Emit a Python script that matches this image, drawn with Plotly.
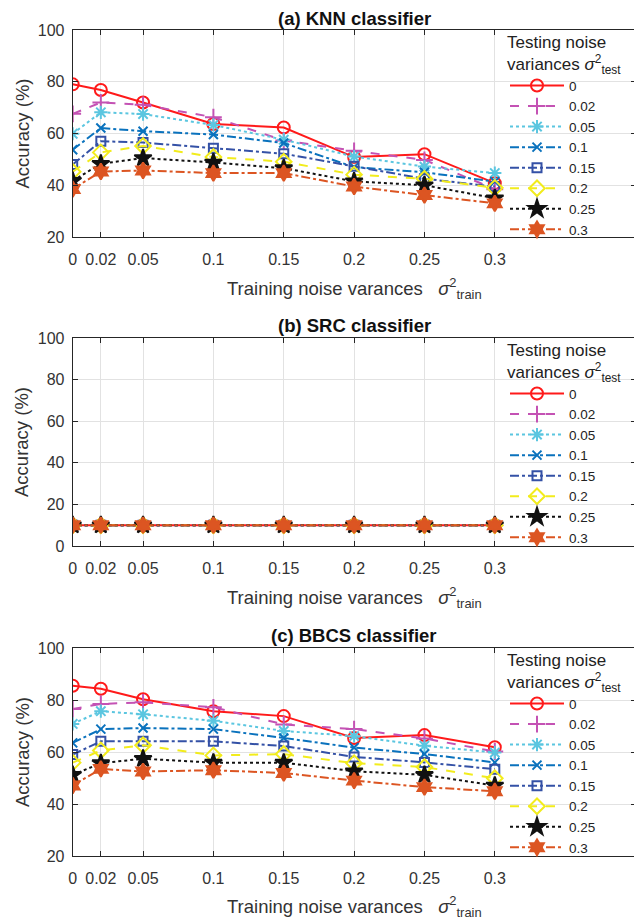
import plotly.graph_objects as go

train_var = [0, 0.02, 0.05, 0.1, 0.15, 0.2, 0.25, 0.3]
tick_labels = ["0", "0.02", "0.05", "0.1", "0.15", "0.2", "0.25", "0.3"]
test_var_labels = ["0", "0.02", "0.05", "0.1", "0.15", "0.2", "0.25", "0.3"]

# (a) KNN classifier accuracies, one list per testing noise variance
knn_0 = [79.0, 76.8, 72.0, 63.7, 62.3, 50.9, 52.0, 40.8]
knn_002 = [67.6, 72.0, 71.1, 66.3, 57.3, 53.3, 49.8, 38.5]
knn_005 = [59.9, 68.2, 67.5, 63.3, 57.6, 51.1, 47.2, 44.7]
knn_01 = [53.7, 62.1, 60.9, 59.6, 56.3, 47.0, 45.0, 41.4]
knn_015 = [48.0, 57.0, 56.5, 54.3, 52.2, 47.3, 42.5, 39.5]
knn_02 = [45.2, 52.7, 55.2, 50.9, 49.1, 44.1, 42.5, 39.0]
knn_025 = [41.7, 48.3, 50.5, 48.8, 46.6, 41.5, 40.0, 35.0]
knn_03 = [38.5, 45.3, 45.7, 44.7, 44.7, 39.5, 36.2, 33.0]

# (b) SRC classifier accuracies
src_0 = [10, 10, 10, 10, 10, 10, 10, 10]
src_002 = [10, 10, 10, 10, 10, 10, 10, 10]
src_005 = [10, 10, 10, 10, 10, 10, 10, 10]
src_01 = [10, 10, 10, 10, 10, 10, 10, 10]
src_015 = [10, 10, 10, 10, 10, 10, 10, 10]
src_02 = [10, 10, 10, 10, 10, 10, 10, 10]
src_025 = [10, 10, 10, 10, 10, 10, 10, 10]
src_03 = [10, 10, 10, 10, 10, 10, 10, 10]

# (c) BBCS classifier accuracies
bbcs_0 = [85.5, 84.3, 80.3, 75.7, 73.8, 65.4, 66.5, 61.8]
bbcs_002 = [76.5, 78.5, 79.1, 77.2, 70.6, 68.8, 65.2, 60.2]
bbcs_005 = [70.8, 75.7, 74.5, 72.0, 68.1, 66.1, 62.4, 59.8]
bbcs_01 = [63.5, 68.8, 69.2, 68.8, 65.4, 61.7, 59.2, 56.0]
bbcs_015 = [59.0, 64.1, 64.1, 64.1, 62.3, 58.1, 56.0, 53.4]
bbcs_02 = [55.9, 60.6, 62.6, 58.7, 59.2, 55.7, 54.2, 49.9]
bbcs_025 = [51.2, 55.7, 57.4, 55.9, 55.9, 52.6, 51.2, 47.1]
bbcs_03 = [47.1, 53.5, 52.5, 53.0, 51.9, 49.0, 46.5, 44.9]

panels = [
    ("(a) KNN classifier", [knn_0, knn_002, knn_005, knn_01, knn_015, knn_02, knn_025, knn_03], [20, 100], [20, 40, 60, 80, 100]),
    ("(b) SRC classifier", [src_0, src_002, src_005, src_01, src_015, src_02, src_025, src_03], [0, 100], [0, 20, 40, 60, 80, 100]),
    ("(c) BBCS classifier", [bbcs_0, bbcs_002, bbcs_005, bbcs_01, bbcs_015, bbcs_02, bbcs_025, bbcs_03], [20, 100], [20, 40, 60, 80, 100]),
]

styles = [
    dict(color="#FF1A1A", dash="solid", symbol="circle-open", size=12),
    dict(color="#C452B4", dash="dash", symbol="cross-thin-open", size=12),
    dict(color="#5BC6E0", dash="dot", symbol="asterisk-open", size=11),
    dict(color="#0A72BD", dash="dashdot", symbol="x-thin-open", size=9),
    dict(color="#3451A6", dash="dashdot", symbol="square-open", size=9),
    dict(color="#F2EC1C", dash="dash", symbol="diamond-open", size=12),
    dict(color="#111111", dash="dot", symbol="star", size=13),
    dict(color="#DC5522", dash="dashdot", symbol="hexagram", size=12),
]

# page body has an 8px margin; figure coordinates = screen coordinates - 8
OFF = 8.0
W = 642.0 - OFF
H = 924.0 - OFF


def px_x(v):
    return (v - OFF) / W


def px_y(v):
    return 1 - (v - OFF) / H


xdom = [px_x(72.7), px_x(635.5)]
ydoms = [(30, 237), (338, 546), (648, 856)]
title_y = [18.5, 325, 635]
xtitle_y = [288, 597, 906]

text_color = "#333333"
FONT = "Liberation Sans, Arial, sans-serif"

fig = go.Figure()
annotations = []
layout = {}

for p, (title, series, yr, yt) in enumerate(panels):
    sfx = "" if p == 0 else str(p + 1)
    xa = "x" + sfx
    ya = "y" + sfx
    lg = "legend" + sfx
    for i, vals in enumerate(series):
        st = styles[i]
        fig.add_trace(go.Scatter(
            x=train_var, y=vals, mode="lines+markers", name=test_var_labels[i],
            xaxis=xa, yaxis=ya, legend=lg,
            line=dict(color=st["color"], width=2, dash=st["dash"]),
            marker=dict(symbol=st["symbol"], size=st["size"], color=st["color"],
                        line=dict(color=st["color"], width=2)),
        ))
    top, bot = ydoms[p]
    ydom = [px_y(bot), px_y(top)]
    layout["xaxis" + sfx] = dict(
        domain=xdom, range=[0, 0.4], anchor=ya, tickmode="array",
        tickvals=train_var, ticktext=tick_labels, showgrid=True,
        gridcolor="#e2e2e2", gridwidth=1, showline=True, linecolor="#262626",
        linewidth=1, mirror="ticks", ticks="inside", ticklen=5, tickcolor="#262626",
        tickfont=dict(size=16, color=text_color, family=FONT), zeroline=False,
        ticklabelstandoff=8, automargin=False,
    )
    layout["yaxis" + sfx] = dict(
        domain=ydom, range=yr, anchor=xa, tickmode="array", tickvals=yt,
        showgrid=True, gridcolor="#e2e2e2", gridwidth=1, showline=True,
        linecolor="#262626", linewidth=1, mirror="ticks", ticks="inside",
        ticklen=5, tickcolor="#262626",
        tickfont=dict(size=16, color=text_color, family=FONT), zeroline=False,
        ticklabelstandoff=4, automargin=False,
    )
    layout[lg] = dict(
        x=px_x(505), xanchor="left", y=px_y(top - 4), yanchor="top",
        bgcolor="rgba(0,0,0,0)", borderwidth=0,
        font=dict(size=13.5, color="#222222", family=FONT),
        title=dict(text="Testing noise<br>variances <i>σ</i><sup>2</sup><sub>test</sub>",
                   font=dict(size=17, color="#222222", family=FONT), side="top"),
        itemwidth=54, tracegroupgap=0,
    )
    annotations.append(dict(
        text="<b>" + title + "</b>", x=(xdom[0] + xdom[1]) / 2, y=px_y(title_y[p]),
        xref="paper", yref="paper", showarrow=False, xanchor="center", yanchor="middle",
        font=dict(size=18.5, color="#111111", family=FONT),
    ))
    annotations.append(dict(
        text="Training noise varances\u00a0\u00a0\u00a0<i>σ</i><sup>2</sup><sub>train</sub>",
        x=(xdom[0] + xdom[1]) / 2, y=px_y(xtitle_y[p]),
        xref="paper", yref="paper", showarrow=False, xanchor="center", yanchor="middle",
        font=dict(size=18.5, color=text_color, family=FONT),
    ))
    annotations.append(dict(
        text="Accuracy (%)", x=px_x(22), y=px_y((top + bot) / 2),
        xref="paper", yref="paper", showarrow=False, xanchor="center", yanchor="middle",
        textangle=-90, font=dict(size=18.5, color=text_color, family=FONT),
    ))

fig.update_layout(
    width=int(W), height=int(H), margin=dict(l=0, r=0, t=0, b=0, autoexpand=False),
    paper_bgcolor="white", plot_bgcolor="white",
    annotations=annotations, showlegend=True, **layout,
)

fig.write_html("out.html")
